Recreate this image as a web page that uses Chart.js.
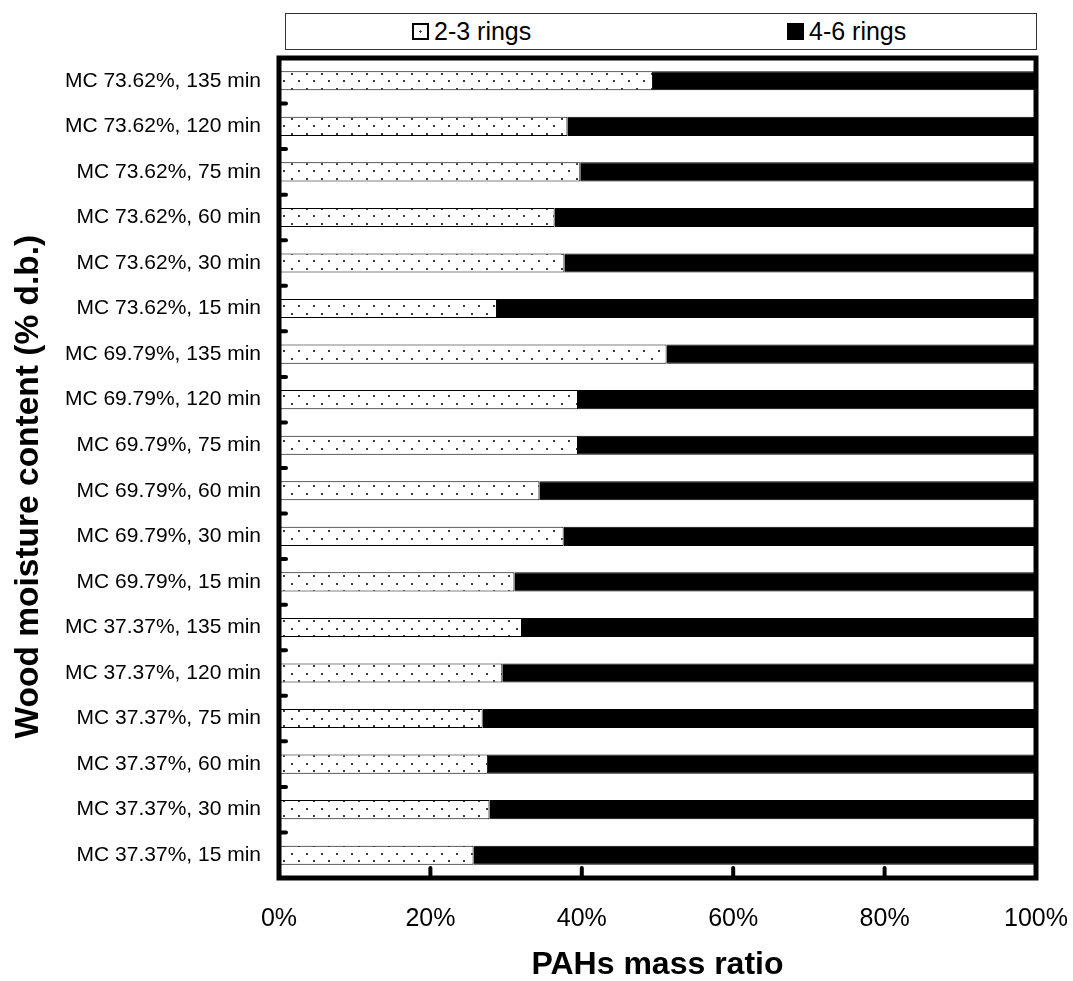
<!DOCTYPE html>
<html>
<head>
<meta charset="utf-8">
<script src="https://cdn.jsdelivr.net/npm/chart.js@4"></script>
<style>
  html, body { margin: 0; padding: 0; background: #fff; }
  #wrap { position: relative; width: 1073px; height: 981px; font-family: "Liberation Sans", Arial, sans-serif; }
  #chart { position: absolute; left: 0; top: 0; }
  #legend { position: absolute; left: 285px; top: 13px; width: 752px; height: 37px; box-sizing: border-box; border: 1px solid #333; background: #fff; }
  .item { position: absolute; top: 0; height: 35px; display: flex; align-items: center; font-size: 25px; color: #000; }
  .swatch { width: 17px; height: 17px; box-sizing: border-box; border: 2px solid #000; margin-right: 5px; }
  .dotted { background: #fff radial-gradient(circle, #444 1px, transparent 1.3px) 2px 2px / 9px 9px; }
  .solid { background: #000; }
</style>
</head>
<body>
<div id="wrap">
  <canvas id="chart" width="1073" height="981"></canvas>
  <div id="legend">
    <div class="item" style="left:126px"><span class="swatch dotted"></span>2-3 rings</div>
    <div class="item" style="left:501px"><span class="swatch solid"></span>4-6 rings</div>
  </div>
</div>
<script>
// Samples: moisture content and residence time, listed top to bottom
const categories = [
  "MC 73.62%, 135 min", "MC 73.62%, 120 min", "MC 73.62%, 75 min",
  "MC 73.62%, 60 min", "MC 73.62%, 30 min", "MC 73.62%, 15 min",
  "MC 69.79%, 135 min", "MC 69.79%, 120 min", "MC 69.79%, 75 min",
  "MC 69.79%, 60 min", "MC 69.79%, 30 min", "MC 69.79%, 15 min",
  "MC 37.37%, 135 min", "MC 37.37%, 120 min", "MC 37.37%, 75 min",
  "MC 37.37%, 60 min", "MC 37.37%, 30 min", "MC 37.37%, 15 min"
];

// Mass share of light PAHs (2-3 rings), %
const rings23 = [49.4, 38.1, 39.8, 36.4, 37.7, 28.8,
                 51.2, 39.5, 39.5, 34.4, 37.6, 31.1,
                 32.1, 29.5, 26.9, 27.6, 27.8, 25.7];

// Mass share of heavy PAHs (4-6 rings), %
const rings46 = [50.6, 61.9, 60.2, 63.6, 62.3, 71.2,
                 48.8, 60.5, 60.5, 65.6, 62.4, 68.9,
                 67.9, 70.5, 73.1, 72.4, 72.2, 74.3];

const xTickValues = [0, 20, 40, 60, 80, 100];

// Sparse staggered dot fill for the light-PAH bars
function dotPattern() {
  const c = document.createElement('canvas');
  c.width = 15; c.height = 15;
  const g = c.getContext('2d');
  g.fillStyle = '#fff';
  g.fillRect(0, 0, 15, 15);
  g.fillStyle = '#3a3a3a';
  g.fillRect(6, 13, 2, 2);
  g.fillRect(13, 5, 2, 2);
  return g.createPattern(c, 'repeat');
}

// Heavy frame around the plot plus short inward tick marks
const framePlugin = {
  id: 'frame',
  afterDatasetsDraw(chart) {
    const { ctx, chartArea: a, scales: { x, y } } = chart;
    ctx.save();
    ctx.strokeStyle = '#000';
    ctx.lineWidth = 4;
    ctx.lineCap = 'round';
    for (let i = 1; i < categories.length; i++) {
      const py = (y.getPixelForValue(i - 1) + y.getPixelForValue(i)) / 2;
      ctx.beginPath();
      ctx.moveTo(a.left, py);
      ctx.lineTo(a.left + 7, py);
      ctx.stroke();
    }
    x.ticks.forEach(t => {
      if (t.value > 0 && t.value < 100) {
        const px = x.getPixelForValue(t.value);
        ctx.beginPath();
        ctx.moveTo(px, a.bottom);
        ctx.lineTo(px, a.bottom - 10);
        ctx.stroke();
      }
    });
    ctx.lineCap = 'butt';
    ctx.lineJoin = 'miter';
    ctx.lineWidth = 5;
    ctx.strokeRect(a.left, a.top, a.right - a.left, a.bottom - a.top);
    ctx.restore();
  }
};

const FONT = "'Liberation Sans', Arial, sans-serif";

new Chart(document.getElementById('chart'), {
  type: 'bar',
  data: {
    labels: categories,
    datasets: [
      {
        label: '2-3 rings',
        data: rings23,
        backgroundColor: dotPattern(),
        borderColor: '#000',
        borderWidth: 1,
        borderSkipped: false
      },
      {
        label: '4-6 rings',
        data: rings46,
        backgroundColor: '#000',
        borderColor: '#000',
        borderWidth: 1
      }
    ]
  },
  options: {
    indexAxis: 'y',
    responsive: false,
    devicePixelRatio: 1,
    animation: false,
    layout: { padding: { left: 0, right: 37, top: 58, bottom: 0 } },
    datasets: { bar: { barPercentage: 0.42, categoryPercentage: 1.0 } },
    plugins: {
      legend: { display: false },
      tooltip: { enabled: false }
    },
    scales: {
      x: {
        stacked: true,
        min: 0,
        max: 100,
        afterBuildTicks(scale) { scale.ticks = xTickValues.map(v => ({ value: v })); },
        afterFit(scale) {
          scale.height = 103;
          scale.paddingLeft = 0;
          scale.paddingRight = 0;
        },
        grid: { display: false, drawTicks: false },
        border: { display: false },
        ticks: {
          padding: 26,
          color: '#000',
          font: { family: FONT, size: 25 },
          maxRotation: 0,
          callback: v => v + '%'
        },
        title: {
          display: true,
          text: 'PAHs mass ratio',
          color: '#000',
          font: { family: FONT, size: 32, weight: 'bold', lineHeight: 1 },
          padding: { top: 0, bottom: 0 }
        }
      },
      y: {
        stacked: true,
        afterFit(scale) {
          scale.width = 279;
          scale.paddingTop = 0;
          scale.paddingBottom = 0;
        },
        grid: { display: false, drawTicks: false },
        border: { display: false },
        ticks: {
          padding: 18,
          color: '#000',
          font: { family: FONT, size: 21 }
        },
        title: {
          display: true,
          text: 'Wood moisture content (% d.b.)    ',
          color: '#000',
          font: { family: FONT, size: 33.5, weight: 'bold', lineHeight: 1 },
          padding: { top: 12, bottom: 0 }
        }
      }
    }
  },
  plugins: [framePlugin]
});
</script>
</body>
</html>
